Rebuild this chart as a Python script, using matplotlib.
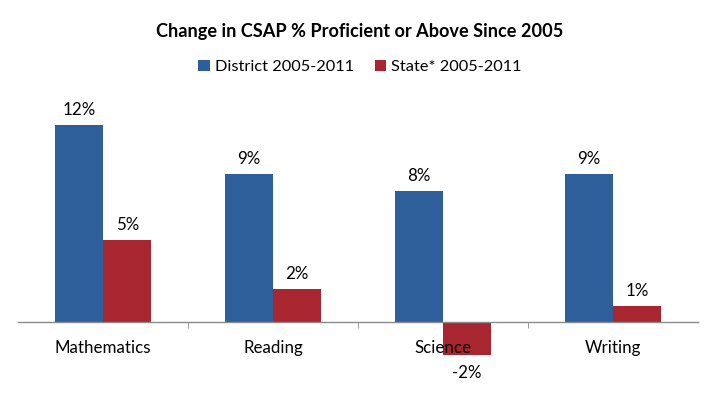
import matplotlib
matplotlib.use("Agg")
import matplotlib.pyplot as plt
import numpy as np

categories = ["Mathematics", "Reading", "Science", "Writing"]
district = [12, 9, 8, 9]
state = [5, 2, -2, 1]
series_names = ["District 2005-2011", "State* 2005-2011"]
title = "Change in CSAP % Proficient or Above Since 2005"

blue = "#2F5F9B"
red = "#A8262F"

plt.rcParams['font.family'] = ['Lato', 'DejaVu Sans']

fig = plt.figure(figsize=(7.2, 3.96), dpi=100)
ax = fig.add_axes([18/720, 8/396, 680/720, 296/396])

x = np.arange(len(categories))
w = 0.285
b1 = ax.bar(x - w/2, district, w, color=blue, label=series_names[0])
b2 = ax.bar(x + w/2, state, w, color=red, label=series_names[1])

ax.set_xlim(-0.5, len(categories) - 0.5)
ax.set_ylim(-4, 14)

for bars, vals in ((b1, district), (b2, state)):
    for rect, v in zip(bars, vals):
        cx = rect.get_x() + rect.get_width()/2
        if v >= 0:
            ax.annotate(f"{v}%", (cx, v), xytext=(0, 5), textcoords="offset points",
                        ha="center", va="bottom", fontsize=12.2)
        else:
            ax.annotate(f"{v}%", (cx, v), xytext=(0, -7), textcoords="offset points",
                        ha="center", va="top", fontsize=12.2)

for s in ("top", "right", "left"):
    ax.spines[s].set_visible(False)
ax.spines["bottom"].set_position(("data", 0))
ax.spines["bottom"].set_color("#8a8a8a")
ax.spines["bottom"].set_linewidth(1.0)
ax.set_yticks([])
ax.set_xticks(x)
ax.set_xticklabels(categories, fontsize=12.2)
ax.tick_params(axis="x", which="major", length=0, pad=13)
ax.set_xticks([0.5, 1.5, 2.5], minor=True)
ax.tick_params(axis="x", which="minor", length=4, color="#8a8a8a", direction="out")

fig.text(0.5, 1 - 31/396, title, ha="center", va="center", fontsize=13.1, fontweight="bold")
fig.legend(handles=[b1, b2], labels=series_names, loc="center", bbox_to_anchor=(0.5, 1 - 67/396),
           ncol=2, frameon=False, fontsize=11.8, handlelength=0.7, handleheight=0.7,
           handletextpad=0.3, columnspacing=1.3)

fig.savefig("out.png", dpi=100)
